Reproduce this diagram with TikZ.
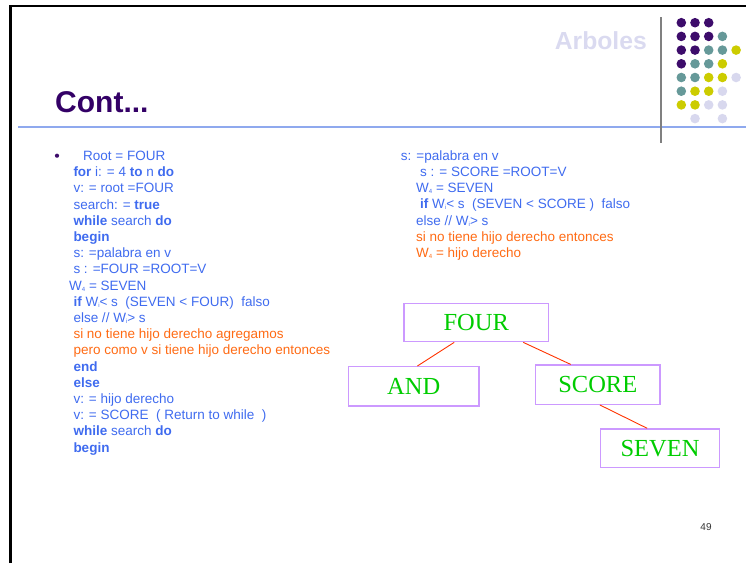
\documentclass[tikz,border=0pt]{standalone}
\usepackage{fontspec}
\setmainfont{Liberation Sans}
\newfontfamily\treefont{Liberation Serif}
\usetikzlibrary{calc}
\newcommand{\tinysub}[1]{\raisebox{-1pt}{\fontsize{6}{6}\selectfont #1}}
\definecolor{codeblue}{HTML}{3F6BEF}
\definecolor{codeorange}{HTML}{FF6A13}
\definecolor{titlepurple}{HTML}{330066}
\definecolor{arbcol}{HTML}{DADAF0}
\definecolor{rulecol}{HTML}{8FA9EE}
\definecolor{dotP}{HTML}{3D0C6B}
\definecolor{dotT}{HTML}{669999}
\definecolor{dotY}{HTML}{CCCC00}
\definecolor{dotL}{HTML}{D8D8EE}
\definecolor{boxcol}{HTML}{CC99FF}
\definecolor{treegreen}{HTML}{00CC00}
\definecolor{edgecol}{HTML}{FF3300}
\tikzset{
  code/.style={anchor=base west, inner sep=0pt, text=codeblue, font=\fontsize{13.5}{16}\selectfont},
  codeor/.style={code, text=codeorange},
  treebox/.style={draw=boxcol, line width=1.3pt, text=treegreen, font=\treefont\fontsize{24.5}{28}\selectfont, inner sep=0pt},
  treeedge/.style={draw=edgecol, line width=0.9pt}
}
\begin{document}
\begin{tikzpicture}[x=1pt,y=-1pt]
\useasboundingbox (0,0) rectangle (746,563);
% frame
\draw[line width=2.5pt] (10.5,563) -- (10.5,6) -- (746,6);
% header
\node[anchor=base east, inner sep=0pt, text=arbcol, font=\bfseries\fontsize{24.7}{28}\selectfont] (arb) at (647,49.3) {Arboles};
\node[anchor=base west, inner sep=0pt, text=titlepurple, font=\bfseries\fontsize{30}{34}\selectfont] (cont) at (55,112) {Cont...};
\draw[rulecol, line width=2pt] (18,126.7) -- (746,126.7);
\draw[gray, line width=1.6pt] (661,17) -- (661,143);
\foreach \c/\r/\k in {1/1/P,2/1/P,3/1/P, 1/2/P,2/2/P,3/2/P,4/2/T, 1/3/P,2/3/P,3/3/T,4/3/T,5/3/Y, 1/4/P,2/4/T,3/4/T,4/4/Y, 1/5/T,2/5/T,3/5/Y,4/5/Y,5/5/L, 1/6/T,2/6/Y,3/6/Y,4/6/L, 1/7/Y,2/7/Y,3/7/L,4/7/L, 2/8/L,4/8/L}
  \fill[dot\k] ({681.3+13.7*(\c-1)},{22.7+13.7*(\r-1)}) circle[radius=4.8pt];
% bullet
\fill[dotP] (57,155.7) circle[radius=2.1pt];
% left code
\node[code] (l1) at (83,160.5) {Root = FOUR};
\node[code] (l2) at (73.3,176.7) {\textbf{for} i: = 4 \textbf{to} n \textbf{do}};
\node[code] (l3) at (73.3,192.9) {v: = root =FOUR};
\node[code] (l4) at (73.3,209.1) {search: = \textbf{true}};
\node[code] (l5) at (73.3,225.3) {\textbf{while} search \textbf{do}};
\node[code] (l6) at (73.3,241.5) {\textbf{begin}};
\node[code] (l7) at (73.3,257.7) {s: =palabra en v};
\node[code] (l8) at (73.3,273.9) {s : =FOUR =ROOT=V};
\node[code] (l9) at (69,290.1) {W\tinysub{4} = SEVEN};
\node[code] (l10) at (73.3,306.3) {\textbf{if} W\tinysub{i}< s \ (SEVEN < FOUR) \ falso};
\node[code] (l11) at (73.3,322.5) {else // W\tinysub{i}> s};
\node[codeor] (l12) at (73.3,338.7) {si no tiene hijo derecho agregamos};
\node[codeor] (l13) at (73.3,354.9) {pero como v si tiene hijo derecho entonces};
\node[code] (l14) at (73.3,371.1) {\textbf{end}};
\node[code] (l15) at (73.3,387.3) {\textbf{else}};
\node[code] (l16) at (73.3,403.5) {v: = hijo derecho};
\node[code] (l17) at (73.3,419.7) {v: = SCORE \ ( Return to while \ )};
\node[code] (l18) at (73.3,435.9) {\textbf{while} search \textbf{do}};
\node[code] (l19) at (73.3,452.1) {\textbf{begin}};
% right code
\node[code] (r1) at (400.7,160.0) {s: =palabra en v};
\node[code] (r2) at (420,176.5) {s : = SCORE =ROOT=V};
\node[code] (r3) at (416,192.7) {W\tinysub{4} = SEVEN};
\node[code] (r4) at (420,208.9) {\textbf{if} W\tinysub{i}< s \ (SEVEN < SCORE ) \ falso};
\node[code] (r5) at (416,225.1) {else // W\tinysub{i}> s};
\node[codeor] (r6) at (416,241.3) {si no tiene hijo derecho entonces};
\node[codeor] (r7) at (416,257.5) {W\tinysub{4} = hijo derecho};
% tree
\node[treebox, minimum width=144.3pt, minimum height=38.4pt] (four) at (476.2,322.5) {FOUR};
\node[treebox, minimum width=130.7pt, minimum height=39.3pt] (and) at (413.7,386.3) {AND};
\node[treebox, minimum width=124.3pt, minimum height=39.3pt] (score) at (597.8,384.7) {SCORE};
\node[treebox, minimum width=118.6pt, minimum height=38.7pt] (seven) at (660,448.3) {SEVEN};
\draw[treeedge] ($(four.south west)!0.349!(four.south east)$) -- ($(and.north west)!0.528!(and.north east)$);
\draw[treeedge] ($(four.south west)!0.823!(four.south east)$) -- ($(score.north west)!0.284!(score.north east)$);
\draw[treeedge] ($(score.south west)!0.517!(score.south east)$) -- ($(seven.north west)!0.393!(seven.north east)$);
% page number
\node[inner sep=0pt, text=black!80, font=\fontsize{10}{12}\selectfont] (pg) at (706,527) {49};
\end{tikzpicture}
\end{document}
